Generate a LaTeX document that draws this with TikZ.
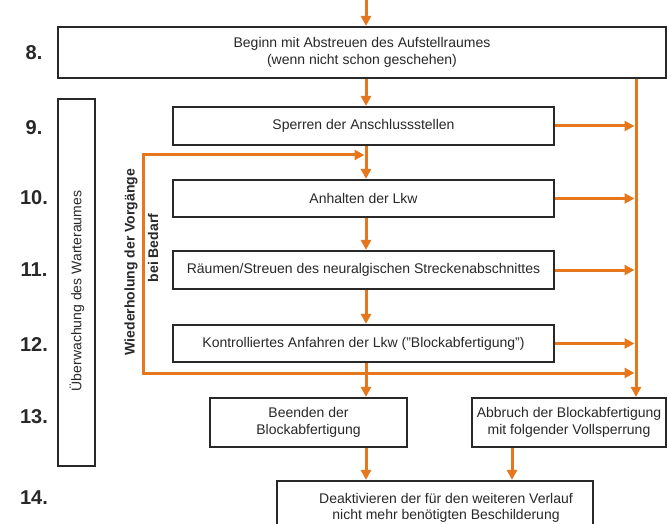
\documentclass[tikz,border=0pt]{standalone}
\usepackage{fontspec}
\setmainfont{Liberation Sans}
\usetikzlibrary{arrows.meta}
\definecolor{flow}{RGB}{230,119,28}
\definecolor{ink}{RGB}{40,40,40}
\begin{document}
\begin{tikzpicture}[x=1pt,y=-1pt,
  stepbox/.style={draw=ink, line width=2.2pt, inner sep=0pt, align=center,
    text=ink, font=\fontsize{14}{16.5}\selectfont},
  steplabel/.style={text=ink, font=\fontsize{20}{22}\selectfont\bfseries},
  flowline/.style={draw=flow, line width=3pt},
  arr/.style={flowline, -{Triangle[length=10pt,width=10pt]}},
  rottext/.style={rotate=90, text=ink, font=\fontsize{14}{16}\selectfont, inner sep=0pt}]
\useasboundingbox (0,0) rectangle (667,524);
\fill[white] (0,0) rectangle (667,524);

% coordinates
\coordinate (mx) at (366,0);
\coordinate (rx) at (636,0);
\coordinate (rxl) at (634.5,0);
\coordinate (bx) at (512,0);
\coordinate (lt) at (143,155);
\coordinate (lb) at (143,373);
\coordinate (ltend) at (364.5,155);
\coordinate (lbend) at (634.5,373);

% boxes
\node[stepbox, minimum width=608pt, minimum height=51pt] (b8) at (362,52.5)
  {Beginn mit Abstreuen des Aufstellraumes\\(wenn nicht schon geschehen)};
\node[stepbox, minimum width=381pt, minimum height=38pt] (b9) at (363.5,126)
  {Sperren der Anschlussstellen};
\node[stepbox, minimum width=381pt, minimum height=37pt] (b10) at (363.5,198.5)
  {Anhalten der Lkw};
\node[stepbox, minimum width=381pt, minimum height=38pt] (b11) at (363.5,270)
  {Räumen/Streuen des neuralgischen Streckenabschnittes};
\node[stepbox, minimum width=381pt, minimum height=37pt] (b12) at (363.5,343.5)
  {Kontrolliertes Anfahren der Lkw ("Blockabfertigung")};
\node[stepbox, minimum width=197pt, minimum height=49pt] (b13a) at (308.5,422.5)
  {Beenden der\\Blockabfertigung};
\node[stepbox, minimum width=194pt, minimum height=49pt] (b13b) at (569,422.5)
  {Abbruch der Blockabfertigung\\mit folgender Vollsperrung};
\node[stepbox, minimum width=316pt, minimum height=64pt] (b14) at (435,513) {};
\node[align=center, text=ink, inner sep=0pt, font=\fontsize{14}{16.5}\selectfont] (t14) at (446,508)
  {Deaktivieren der für den weiteren Verlauf\\nicht mehr benötigten Beschilderung};

% side box
\node[draw=ink, line width=2.2pt, minimum width=37pt, minimum height=367pt, inner sep=0pt] (side) at (76.5,282.5) {};
\node[rottext] (sidetext) at (77,291) {Überwachung des Warteraumes};

% step labels
\node[steplabel] (l8) at (34,53) {8.};
\node[steplabel] (l9) at (34,128) {9.};
\node[steplabel] (l10) at (34,198) {10.};
\node[steplabel] (l11) at (34,270) {11.};
\node[steplabel] (l12) at (34,345) {12.};
\node[steplabel] (l13) at (34,417) {13.};
\node[steplabel] (l14) at (34,498) {14.};

% connectors
\draw[arr] (mx) -- (b8.north -| mx);
\draw[arr] (b8.south -| mx) -- (b9.north -| mx);
\draw[arr] (b9.south -| mx) -- (b10.north -| mx);
\draw[arr] (b10.south -| mx) -- (b11.north -| mx);
\draw[arr] (b11.south -| mx) -- (b12.north -| mx);
\draw[arr] (b12.south -| mx) -- (b13a.north -| mx);
\draw[arr] (b8.south -| rx) -- (b13b.north -| rx);
\draw[arr] (b9.east) -- (b9.east -| rxl);
\draw[arr] (b10.east) -- (b10.east -| rxl);
\draw[arr] (b11.east) -- (b11.east -| rxl);
\draw[arr] (b12.east) -- (b12.east -| rxl);
\draw[arr] (lb) -- (lt) -- (ltend);
\draw[arr] ([xshift=-1.5pt]lb) -- (lbend);
\draw[arr] (b13a.south -| mx) -- (b14.north -| mx);
\draw[arr] (b13b.south -| bx) -- (b14.north -| bx);

% loop label
\node[rottext, font=\fontsize{14}{16}\selectfont\bfseries] (rep1) at (131,262) {Wiederholung der Vorgänge};
\node[rottext, font=\fontsize{14}{16}\selectfont\bfseries] (rep2) at (153,248) {bei Bedarf};
\end{tikzpicture}
\end{document}
